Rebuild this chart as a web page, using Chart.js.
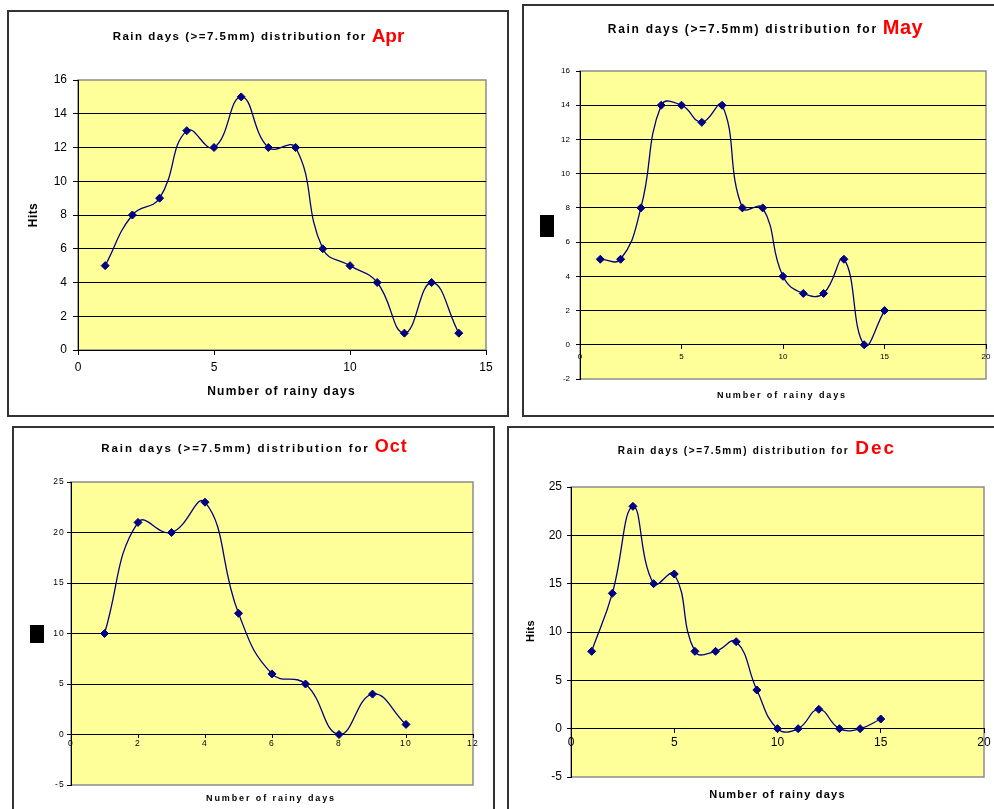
<!DOCTYPE html>
<html>
<head>
<meta charset="utf-8">
<title>Rain days distribution</title>
<script src="https://cdn.jsdelivr.net/npm/chart.js@4.4.0/dist/chart.umd.min.js"></script>
<style>
  html, body { margin: 0; padding: 0; background: #fff; }
  body { width: 994px; height: 809px; position: relative; overflow: hidden; }
  .panel { position: absolute; border: 2px solid #333; box-sizing: border-box; background: #fff; }
  canvas.plot { position: absolute; left: 0; top: 0; }
</style>
</head>
<body>
<div class="panel" style="left:7px;top:10px;width:502px;height:407px"></div>
<div class="panel" style="left:522px;top:4px;width:490px;height:413px"></div>
<div class="panel" style="left:12px;top:426px;width:483px;height:400px"></div>
<div class="panel" style="left:507px;top:426px;width:500px;height:400px"></div>

<canvas id="apr" class="plot" width="994" height="809"></canvas>
<canvas id="may" class="plot" width="994" height="809"></canvas>
<canvas id="oct" class="plot" width="994" height="809"></canvas>
<canvas id="dec" class="plot" width="994" height="809"></canvas>

<script>
// Number of rainy days (>= 7.5 mm) and how often each count occurred
const aprDays = [1, 2, 3, 4, 5, 6, 7, 8, 9, 10, 11, 12, 13, 14];
const aprHits = [5, 8, 9, 13, 12, 15, 12, 12, 6, 5, 4, 1, 4, 1];

const mayDays = [1, 2, 3, 4, 5, 6, 7, 8, 9, 10, 11, 12, 13, 14, 15];
const mayHits = [5, 5, 8, 14, 14, 13, 14, 8, 8, 4, 3, 3, 5, 0, 2];

const octDays = [1, 2, 3, 4, 5, 6, 7, 8, 9, 10];
const octHits = [10, 21, 20, 23, 12, 6, 5, 0, 4, 1];

const decDays = [1, 2, 3, 4, 5, 6, 7, 8, 9, 10, 11, 12, 13, 14, 15];
const decHits = [8, 14, 23, 15, 16, 8, 8, 9, 4, 0, 0, 2, 0, 0, 1];

const TITLE_TEXT = 'Rain days (>=7.5mm) distribution for';
const X_TITLE = 'Number of rainy days';
const Y_TITLE = 'Hits';

const FONT = '"Liberation Sans", Arial, Helvetica, sans-serif';
const NAVY = '#000080';
const PLOT_BG = '#ffff99';
const PAGE_W = 994, PAGE_H = 809;

function textWidth(ctx, text, font, spacing) {
  ctx.save();
  ctx.font = font;
  ctx.letterSpacing = spacing + 'px';
  const w = ctx.measureText(text).width;
  ctx.restore();
  return w;
}

function drawText(ctx, text, x, y, font, color, spacing) {
  ctx.save();
  ctx.font = font;
  ctx.letterSpacing = spacing + 'px';
  ctx.fillStyle = color;
  ctx.textAlign = 'left';
  ctx.textBaseline = 'alphabetic';
  ctx.fillText(text, x, y);
  ctx.restore();
}

// Yellow plot area with its grey frame, titles and axis captions
const decor = {
  id: 'decor',
  beforeDraw(chart, args, o) {
    const { ctx, chartArea: a } = chart;
    ctx.save();
    ctx.fillStyle = PLOT_BG;
    ctx.fillRect(a.left, a.top, a.right - a.left, a.bottom - a.top);
    ctx.strokeStyle = '#8c8c8c';
    ctx.lineWidth = 1.5;
    ctx.strokeRect(a.left, a.top, a.right - a.left, a.bottom - a.top);
    ctx.restore();
    ctx.letterSpacing = (o.tickSpacing || 0) + 'px';
  },
  afterDraw(chart, args, o) {
    const ctx = chart.ctx;
    ctx.letterSpacing = '0px';
    // chart title: black text followed by the month in red
    const t = o.title;
    const w1 = textWidth(ctx, TITLE_TEXT, t.font, t.spacing);
    const w2 = textWidth(ctx, t.month, t.monthFont, t.monthSpacing);
    const start = t.cx - (w1 + t.gap + w2) / 2;
    drawText(ctx, TITLE_TEXT, start, t.y, t.font, '#000', t.spacing);
    drawText(ctx, t.month, start + w1 + t.gap, t.monthY, t.monthFont, '#ff0000', t.monthSpacing);

    // x axis caption
    const xt = o.xTitle;
    const xw = textWidth(ctx, X_TITLE, xt.font, xt.spacing);
    drawText(ctx, X_TITLE, xt.cx - xw / 2, xt.y, xt.font, '#000', xt.spacing);

    // y axis caption, rotated
    if (o.yTitle) {
      const yt = o.yTitle;
      const yw = textWidth(ctx, Y_TITLE, yt.font, yt.spacing);
      ctx.save();
      ctx.translate(yt.cx, yt.cy);
      ctx.rotate(-Math.PI / 2);
      drawText(ctx, Y_TITLE, -yw / 2, yt.font.match(/(\d+)px/)[1] * 0.36, yt.font, '#000', yt.spacing);
      ctx.restore();
    }
    // blacked-out caption box
    if (o.box) {
      ctx.save();
      ctx.fillStyle = '#000';
      ctx.fillRect(o.box.x, o.box.y, o.box.w, o.box.h);
      ctx.restore();
    }
  }
};

function points(xs, ys) {
  return xs.map((x, i) => ({ x: x, y: ys[i] }));
}

function makeChart(id, spec) {
  const plot = spec.plot;
  const yW = 40, xH = 30;
  const xAtZero = spec.yMin < 0;
  const padding = {
    left: plot.left - yW,
    top: plot.top,
    right: PAGE_W - plot.right,
    bottom: xAtZero ? PAGE_H - plot.bottom : PAGE_H - plot.bottom - xH
  };
  const tickFont = { family: FONT, size: spec.tickSize, weight: 'normal' };
  const edgeless = (ctx) => {
    const v = ctx.tick ? ctx.tick.value : null;
    return (v === spec.yMin || v === spec.yMax) ? 'rgba(0,0,0,0)' : '#000';
  };
  return new Chart(document.getElementById(id), {
    type: 'line',
    data: {
      datasets: [{
        data: points(spec.days, spec.hits),
        borderColor: NAVY,
        borderWidth: 1.3,
        backgroundColor: NAVY,
        pointStyle: 'rectRot',
        pointRadius: 4,
        pointBackgroundColor: NAVY,
        pointBorderColor: NAVY,
        pointBorderWidth: 1,
        tension: 0.45,
        fill: false
      }]
    },
    plugins: [decor],
    options: {
      responsive: false,
      devicePixelRatio: 1,
      animation: false,
      events: [],
      layout: { padding: padding },
      plugins: {
        legend: { display: false },
        tooltip: { enabled: false },
        title: { display: false },
        decor: spec.decor
      },
      scales: {
        x: {
          type: 'linear',
          position: xAtZero ? { y: 0 } : 'bottom',
          min: spec.xMin, max: spec.xMax,
          afterFit: (s) => { if (!xAtZero) s.height = xH; },
          ticks: {
            stepSize: spec.xStep, color: '#000', font: tickFont,
            padding: spec.xPad, maxRotation: 0, autoSkip: false
          },
          grid: {
            drawOnChartArea: false, color: '#000', tickColor: '#000',
            tickLength: spec.xTick, lineWidth: 1
          },
          border: { color: '#000', width: 1 }
        },
        y: {
          type: 'linear',
          position: 'left',
          min: spec.yMin, max: spec.yMax,
          afterFit: (s) => { s.width = yW; },
          ticks: {
            stepSize: spec.yStep, color: '#000', font: tickFont,
            padding: spec.yPad, autoSkip: false
          },
          grid: {
            color: edgeless, tickColor: '#000',
            tickLength: spec.yTick, lineWidth: 1
          },
          border: { color: '#000', width: 1 }
        }
      }
    }
  });
}

makeChart('apr', {
  days: aprDays, hits: aprHits,
  plot: { left: 78, top: 80, right: 486, bottom: 350 },
  xMin: 0, xMax: 15, xStep: 5, yMin: 0, yMax: 16, yStep: 2,
  tickSize: 12, xPad: 5, xTick: 5, yPad: 6, yTick: 5,
  decor: {
    title: { cx: 258.5, y: 40, font: 'bold 11.5px ' + FONT, spacing: 1.5,
             month: 'Apr', monthFont: 'bold 19px ' + FONT, monthSpacing: 0, monthY: 41.5, gap: 5 },
    xTitle: { cx: 281.5, y: 395, font: 'bold 12px ' + FONT, spacing: 1.3 },
    yTitle: { cx: 33, cy: 215, font: 'bold 12px ' + FONT, spacing: 0.4 }
  }
});

makeChart('may', {
  days: mayDays, hits: mayHits,
  plot: { left: 580, top: 71, right: 986, bottom: 379 },
  xMin: 0, xMax: 20, xStep: 5, yMin: -2, yMax: 16, yStep: 2,
  tickSize: 8, xPad: 3.5, xTick: 4, yPad: 6, yTick: 4,
  decor: {
    title: { cx: 765.5, y: 33, font: 'bold 12px ' + FONT, spacing: 1.7,
             month: 'May', monthFont: 'bold 20px ' + FONT, monthSpacing: 0.5, monthY: 34.3, gap: 5 },
    xTitle: { cx: 782, y: 398, font: 'bold 9px ' + FONT, spacing: 1.9 },
    box: { x: 540, y: 215, w: 14, h: 22 }
  }
});

makeChart('oct', {
  days: octDays, hits: octHits,
  plot: { left: 71, top: 482, right: 473, bottom: 785 },
  xMin: 0, xMax: 12, xStep: 2, yMin: -5, yMax: 25, yStep: 5,
  tickSize: 8.5, xPad: 1, xTick: 3, yPad: 2, yTick: 4,
  decor: {
    tickSpacing: 1.2,
    title: { cx: 254.5, y: 451.5, font: 'bold 11.5px ' + FONT, spacing: 1.9,
             month: 'Oct', monthFont: 'bold 18px ' + FONT, monthSpacing: 1, monthY: 452, gap: 5 },
    xTitle: { cx: 271, y: 800.5, font: 'bold 9px ' + FONT, spacing: 1.9 },
    box: { x: 30, y: 625, w: 14, h: 18 }
  }
});

makeChart('dec', {
  days: decDays, hits: decHits,
  plot: { left: 571, top: 487, right: 984, bottom: 777 },
  xMin: 0, xMax: 20, xStep: 5, yMin: -5, yMax: 25, yStep: 5,
  tickSize: 12, xPad: 3, xTick: 4, yPad: 5, yTick: 4,
  decor: {
    title: { cx: 757, y: 454, font: 'bold 10px ' + FONT, spacing: 1.6,
             month: 'Dec', monthFont: 'bold 19px ' + FONT, monthSpacing: 2, monthY: 454.3, gap: 6 },
    xTitle: { cx: 777.5, y: 798, font: 'bold 11px ' + FONT, spacing: 1.2 },
    yTitle: { cx: 530, cy: 631, font: 'bold 11px ' + FONT, spacing: 0.3 }
  }
});
</script>
</body>
</html>
